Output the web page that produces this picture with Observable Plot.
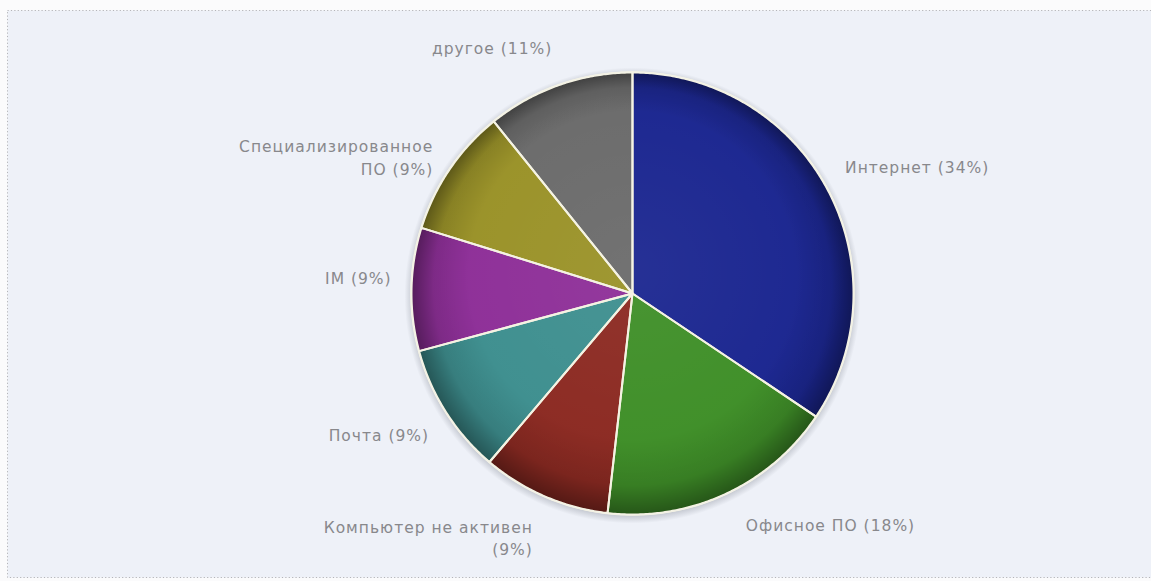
<!DOCTYPE html>
<html><head><meta charset="utf-8">
<script src="https://cdn.jsdelivr.net/npm/d3@7"></script>
<script src="https://cdn.jsdelivr.net/npm/@observablehq/plot@0.6"></script>
<style>
html,body{margin:0;padding:0;background:#fbfbfc;}
#chart svg{display:block}
#chart svg text{letter-spacing:1px}
</style></head><body><div id="chart"></div>
<script>
// ---- data ----
const categories = ["Интернет","Офисное ПО","Компьютер не активен","Почта","IM","Специализированное ПО","другое"];
const shares = [34.4,17.4,9.4,9.6,9.0,9.4,10.8];
const labelTexts = ["Интернет (34%)","Офисное ПО (18%)","Компьютер не активен\n(9%)","Почта (9%)","IM (9%)","Специализированное\nПО (9%)","другое (11%)"];
const colors = ["#1b2690","#3f8f28","#8c2a22","#3e8f8f","#8e2f98","#9a9228","#6b6b6b"];

// ---- layout ----
const W = 1151, H = 581, cx = 632, cy = 293, R = 221;
// small per-label layout nudges in pixels (label collision layout of the original)
const nudge = {"Интернет": [0, -4], "Офисное ПО": [12, -7], "Компьютер не активен": [-4, 3], "IM": [0, -12], "Специализированное ПО": [0, 10]};
const total = d3.sum(shares);
const slicePts = [];
const labels = [];
let acc = 0;
categories.forEach((name, i) => {
  const a0 = acc / total * 2 * Math.PI;
  acc += shares[i];
  const a1 = acc / total * 2 * Math.PI;
  slicePts.push({name, x: 0, y: 0});
  const n = Math.max(2, Math.ceil((a1 - a0) / (Math.PI / 360)));
  for (let k = 0; k <= n; k++) {
    const a = a0 + (a1 - a0) * k / n;
    slicePts.push({name, x: Math.sin(a), y: Math.cos(a)});
  }
  const m = (a0 + a1) / 2;
  const [nx, ny] = nudge[name] || [0, 0];
  labels.push({name, text: labelTexts[i], x: 1.09 * Math.sin(m) + nx / R, y: 1.185 * Math.cos(m) - ny / R, right: Math.sin(m) > 0});
});

const textStyle = {x: "x", y: "y", text: "text", lineAnchor: "middle", lineHeight: 1.45, fontFamily: "DejaVu Sans", fontSize: 15.5, fill: "#88888c"};

const chart = Plot.plot({
  width: W, height: H,
  margin: 0,
  style: {background: "transparent", overflow: "visible"},
  x: {domain: [-cx / R, (W - cx) / R], axis: null},
  y: {domain: [-(H - cy) / R, cy / R], axis: null},
  color: {domain: categories, range: colors},
  marks: [
    Plot.frame({fill: "#eef1f8", stroke: "#b4b4b8", strokeDasharray: "1.2,2.2", insetTop: 10, insetLeft: 7, insetBottom: 4, insetRight: -4}),
    () => {
      const defs = d3.create("svg:defs");
      const sh = defs.append("radialGradient").attr("id", "shade")
        .attr("cx", "50%").attr("cy", "50%").attr("r", "50%").attr("fx", "50%").attr("fy", "34%");
      [[0, 0], [0.74, 0], [0.9, 0.12], [1, 0.4]].forEach(([o, a]) =>
        sh.append("stop").attr("offset", o).attr("stop-color", "#000").attr("stop-opacity", a));
      const hl = defs.append("radialGradient").attr("id", "hl")
        .attr("cx", "50%").attr("cy", "45%").attr("r", "50%");
      [[0, 0.05], [0.6, 0.02], [1, 0]].forEach(([o, a]) =>
        hl.append("stop").attr("offset", o).attr("stop-color", "#fff").attr("stop-opacity", a));
      const sd = defs.append("radialGradient").attr("id", "shadow")
        .attr("cx", "50%").attr("cy", "50%").attr("r", "50%");
      [[0, 0.4], [0.965, 0.4], [1, 0]].forEach(([o, a]) =>
        sd.append("stop").attr("offset", o).attr("stop-color", "#8a8f9a").attr("stop-opacity", a));
      return defs.node();
    },
    Plot.dot([{x: 0, y: 0.0}], {x: "x", y: "y", r: R + 7, fill: "url(#shadow)", dy: 2}),
    Plot.line(slicePts, {x: "x", y: "y", z: "name", fill: "name", stroke: "none", curve: "linear-closed"}),
    Plot.dot([{x: 0, y: 0}], {x: "x", y: "y", r: R, fill: "url(#hl)"}),
    Plot.dot([{x: 0, y: 0}], {x: "x", y: "y", r: R, fill: "url(#shade)"}),
    Plot.line(slicePts, {x: "x", y: "y", z: "name", stroke: "#f5f3e3", strokeWidth: 2, curve: "linear-closed", strokeLinejoin: "round"}),
    Plot.dot([{x: 0, y: 0}], {x: "x", y: "y", r: R + 0.5, fill: "none", stroke: "#f3f2e6", strokeWidth: 1.5}),
    Plot.text(labels.filter(d => d.right), {...textStyle, textAnchor: "start"}),
    Plot.text(labels.filter(d => !d.right), {...textStyle, textAnchor: "end"})
  ]
});
document.getElementById("chart").appendChild(chart);
</script>
</body></html>
